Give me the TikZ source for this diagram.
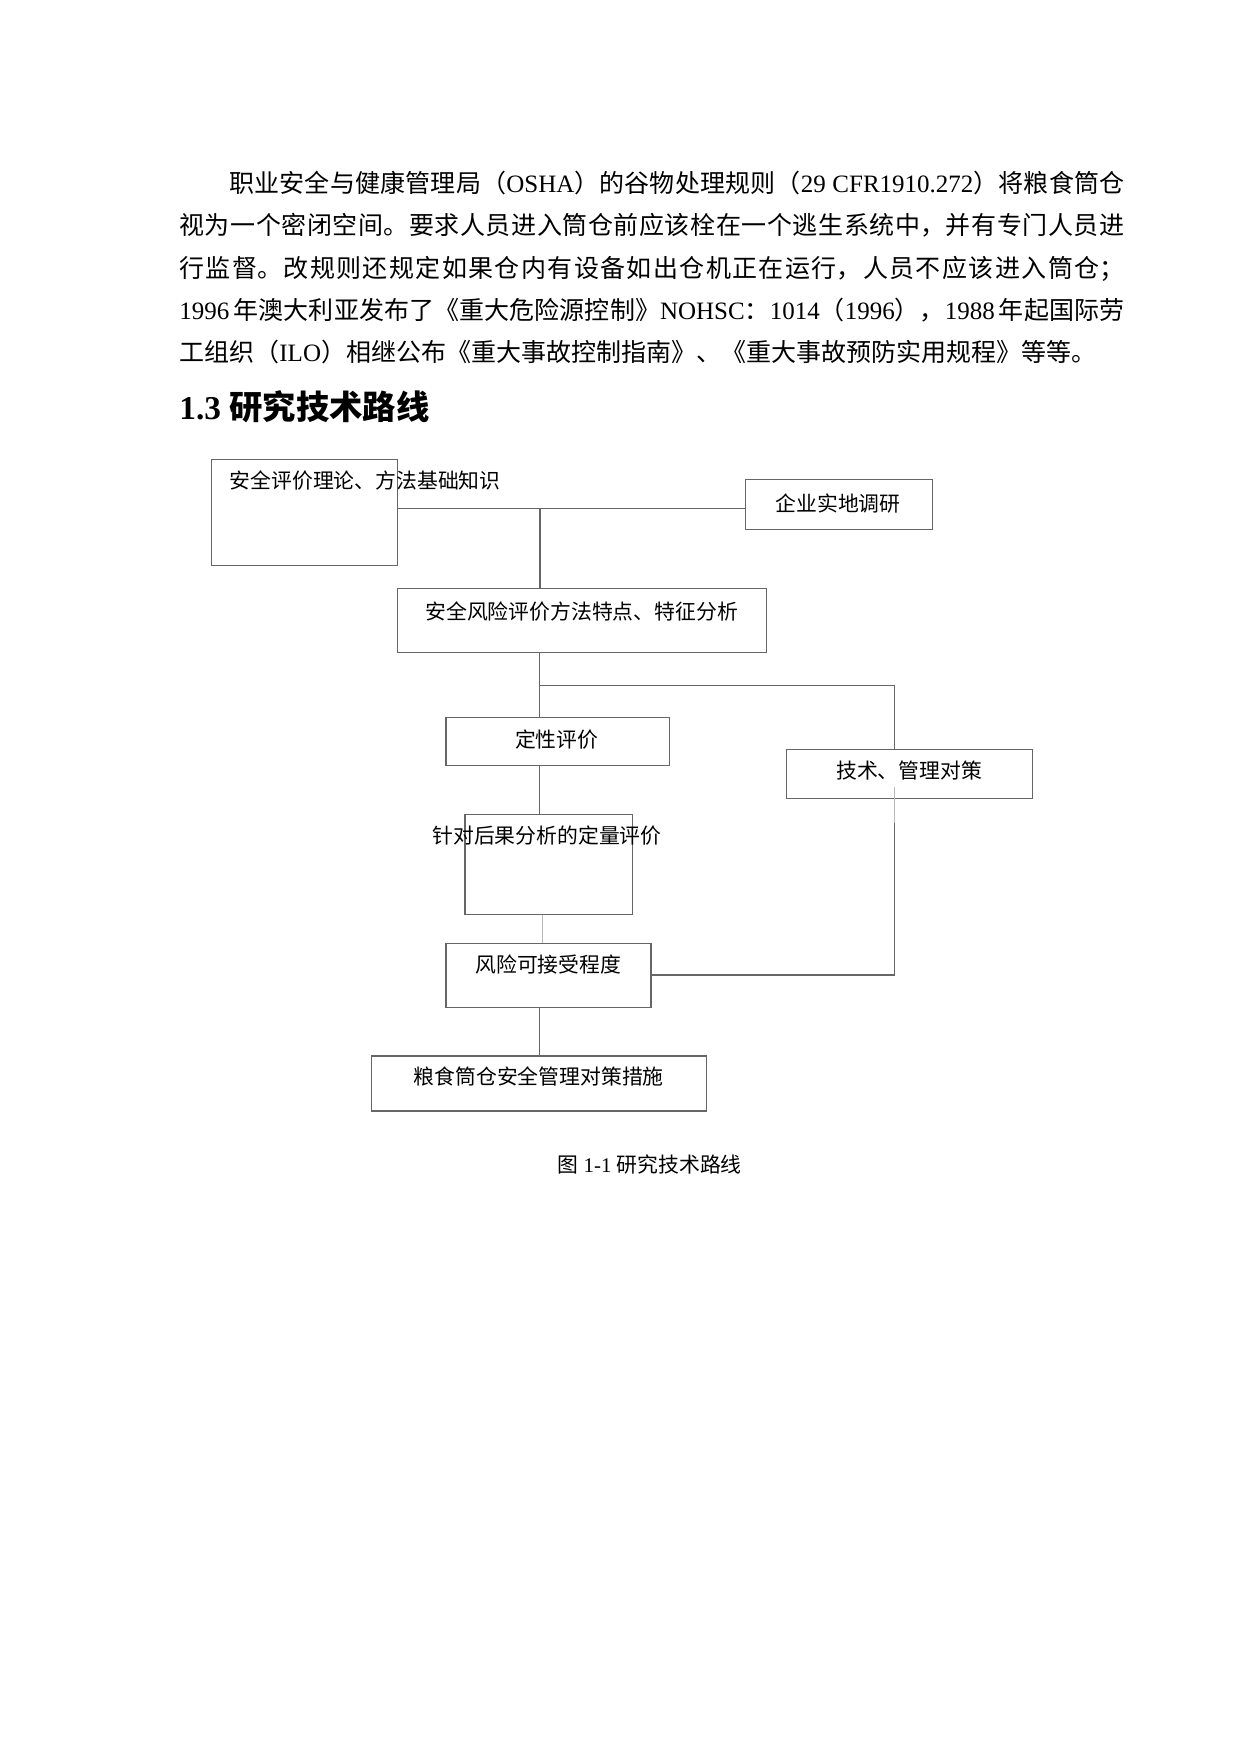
\documentclass[tikz,border=0pt]{standalone}
\usepackage{fontspec}
\setmainfont{Liberation Serif}
\newfontfamily\cjk{Noto Sans CJK SC}
\newcommand\zh[1]{{\cjk #1}}
\begin{document}
\begin{tikzpicture}[x=0.48pt,y=-0.48pt,
  box/.style={draw=black!60, line width=0.6pt, inner sep=0pt, rectangle},
  ln/.style={draw=black!60, line width=0.6pt},
  lt/.style={draw=black!28, line width=0.6pt},
  lab/.style={font=\fontsize{10pt}{12pt}\selectfont\cjk, inner sep=0pt},
  body/.style={font=\fontsize{12pt}{20.3pt}\selectfont, inner sep=0pt}]
\fill[white] (0,0) rectangle (1240,1754);
\useasboundingbox (0,0) rectangle (1240,1754);

% paragraph
\node[body, anchor=base west, text width=453.6pt, align=justify] (para) at (179,192.5)
{\XeTeXlinebreaklocale "zh"\XeTeXlinebreakskip=0pt plus 1pt\tolerance=10000\baselineskip=20.3pt
\hspace*{24pt}\zh{职业安全与健康管理局（}OSHA\zh{）的谷物处理规则（}29 CFR1910.272\zh{）将粮食筒仓}\linebreak
\zh{视为一个密闭空间。要求人员进入筒仓前应该栓在一个逃生系统中，并有专门人员进}\linebreak
\zh{行监督。改规则还规定如果仓内有设备如出仓机正在运行，人员不应该进入筒仓；}\linebreak
1996\hspace{2pt}\zh{年澳大利亚发布了《重大危险源控制》}NOHSC\zh{：}1014\zh{（}1996\zh{），}1988\hspace{2pt}\zh{年起国际劳}\linebreak
\zh{工组织（}ILO\zh{）相继公布《重大事故控制指南》、《重大事故预防实用规程》等等。}\par};

% heading
\node[anchor=west, inner sep=0pt, font=\fontsize{16pt}{18pt}\selectfont\bfseries] (head) at (179,406.7)
{1.3 \zh{研究技术路线}};

% boxes
\node[box, minimum width={185.6*0.48pt}, minimum height={106.4*0.48pt}] (b1) at (304.5,512.5) {};
\node[box, minimum width={187*0.48pt}, minimum height={50*0.48pt}] (b2) at (839,504.3) {};
\node[box, minimum width={369*0.48pt}, minimum height={64.4*0.48pt}] (b3) at (582,620.5) {};
\node[box, minimum width={223.5*0.48pt}, minimum height={48*0.48pt}] (b4) at (557.75,741.3) {};
\node[box, minimum width={245.8*0.48pt}, minimum height={49*0.48pt}] (b5) at (909.4,773.8) {};
\node[box, minimum width={167.3*0.48pt}, minimum height={100*0.48pt}] (b6) at (548.7,864.3) {};
\node[box, minimum width={205*0.48pt}, minimum height={64*0.48pt}] (b7) at (548.5,975.3) {};
\node[box, minimum width={335*0.48pt}, minimum height={55*0.48pt}] (b8) at (539.2,1083.5) {};

% texts
\node[lab, anchor=west] (t1) at (229.3,480.7) {安全评价理论、方法基础知识};
\node[lab] (t2) at (838,503.3) {企业实地调研};
\node[lab] (t3) at (581.7,611.7) {安全风险评价方法特点、特征分析};
\node[lab] (t4) at (556.7,740) {定性评价};
\node[lab] (t5) at (909.2,770.7) {技术、管理对策};
\node[lab] (t6) at (547,836) {针对后果分析的定量评价};
\node[lab] (t7) at (548.3,965) {风险可接受程度};
\node[lab] (t8) at (538.8,1076.7) {粮食筒仓安全管理对策措施};

% caption
\node[inner sep=0pt, font=\fontsize{10pt}{12pt}\selectfont] (cap) at (649.7,1165) {\zh{图} 1-1 \zh{研究技术路线}};

% junctions
\coordinate (j1) at (540,508.3);
\coordinate (j2) at (539.5,685.3);
\coordinate (j3) at (894.5,685.3);
\coordinate (j4) at (542.3,930);
\coordinate (j5) at (894.5,975);
\coordinate (j6) at (894.5,787.3);
\coordinate (j7) at (894.5,822.7);

% connectors
\draw[ln] (b1.east |- j1) -- (j1) -- (b2.west |- j1);
\draw[ln] (j1) -- (j1 |- b3.north);
\draw[ln] (b3.south -| j2) -- (j2) -- (j2 |- b4.north);
\draw[ln] (j2) -- (j3) -- (j3 |- b5.north);
\draw[ln] (b4.south -| j2) -- (b6.north -| j2);
\draw[lt] (b6.south -| j4) -- (b7.north -| j4);
\draw[ln] (b7.south -| j2) -- (b8.north -| j2);
\draw[lt] (j6) -- (j7);
\draw[ln] (j7) -- (j5) -- (b7.east |- j5);
\end{tikzpicture}
\end{document}
